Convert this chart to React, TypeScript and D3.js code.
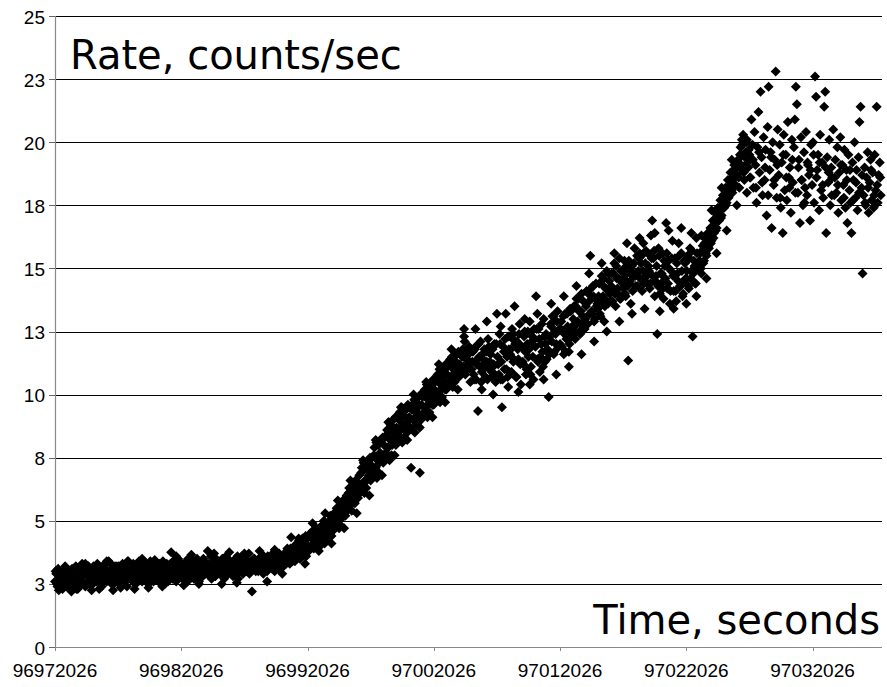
import React from 'react';
import * as d3 from 'd3';

const T0 = 96972026;
const X_MAX = 97037526;
const X_TICKS = [96972026, 96982026, 96992026, 97002026, 97012026, 97022026, 97032026];
const Y_TICKS = [0, 2.5, 5, 7.5, 10, 12.5, 15, 17.5, 20, 22.5, 25];
const Y_TITLE = 'Rate, counts/sec';
const X_TITLE = 'Time, seconds';

// [seconds since 96972026, rate]
const baseline: [number, number][] = [
[0,2.6],[100,2.9],[200,2.4],[300,3.0],[400,2.5],[500,2.8],[600,2.3],[700,3.0],[800,2.6],[900,2.4],
[1000,2.8],[1100,2.5],[1200,3.0],[1300,2.4],[1400,2.7],[1500,3.1],[1600,2.5],[1700,2.3],[1800,2.9],[1900,2.6],
[2000,3.0],[2100,2.5],[2200,2.8],[2300,3.2],[2400,2.4],[2500,2.9],[2600,2.6],[2700,3.1],[2800,2.5],[2900,2.8],
[3000,2.5],[3100,3.0],[3200,2.8],[3300,2.6],[3400,3.2],[3500,2.9],[3600,2.7],[3700,2.4],[3800,3.0],[3900,2.8],
[4000,3.1],[4100,2.6],[4200,2.9],[4300,2.7],[4400,3.3],[4500,2.5],[4600,2.8],[4700,3.0],[4800,2.7],[4900,3.2],
[5000,2.8],[5100,2.5],[5200,3.0],[5300,2.9],[5400,2.6],[5500,3.2],[5600,2.8],[5700,2.4],[5800,3.1],[5900,2.9],
[6000,2.7],[6100,3.0],[6200,3.3],[6300,2.8],[6400,2.5],[6500,2.9],[6600,3.1],[6700,2.7],[6800,3.0],[6900,2.6],
[7000,2.9],[7100,3.2],[7200,2.7],[7300,3.0],[7400,2.5],[7500,2.8],[7600,3.3],[7700,2.9],[7800,2.6],[7900,3.1],
[8000,2.8],[8100,3.0],[8200,2.6],[8300,3.2],[8400,2.9],[8500,2.7],[8600,3.1],[8700,2.5],[8800,3.0],[8900,2.8],
[9000,3.2],[9100,2.9],[9200,3.75],[9300,2.7],[9400,3.0],[9500,3.3],[9600,2.6],[9700,2.9],[9800,3.1],[9900,2.8],
[10000,3.0],[10100,2.7],[10200,3.2],[10300,2.9],[10400,3.4],[10500,2.6],[10600,3.0],[10700,2.8],[10800,3.3],[10900,2.9],
[11000,2.7],[11100,3.1],[11200,2.9],[11300,3.3],[11400,2.6],[11500,3.0],[11600,3.2],[11700,2.8],[11800,3.4],[11900,2.9],
[12000,3.1],[12100,3.8],[12200,2.9],[12300,3.2],[12400,2.7],[12500,3.0],[12600,3.4],[12700,2.8],[12800,3.1],[12900,3.3],
[13000,2.9],[13100,3.2],[13200,3.0],[13300,3.5],[13400,2.7],[13500,3.1],[13600,3.3],[13700,2.9],[13800,3.0],[13900,3.4],
[14000,3.2],[14100,2.8],[14200,3.1],[14300,3.5],[14400,3.0],[14500,2.7],[14600,3.3],[14700,3.1],[14800,3.6],[14900,2.9],
[15000,3.1],[15100,3.4],[15200,3.0],[15300,3.2],[15400,2.9],[15500,3.3],[15600,2.2],[15700,3.1],[15800,3.5],[15900,3.0],
[16000,3.3],[16100,3.0],[16200,3.4],[16300,3.1],[16400,3.6],[16500,2.9],[16600,3.2],[16700,3.4],[16800,3.0],[16900,3.3],
[17000,3.2],[17100,3.5],[17200,3.1],[17300,3.4],[17400,3.0],[17500,3.6],[17600,3.3],[17700,3.1],[17800,3.5],[17900,3.2],
[18000,3.4],[18100,3.2],[18200,3.6],[18300,3.3],[18400,3.5],[18500,3.7],[18600,3.3],[18700,4.35],[18800,3.4],[18900,3.8],
];

const baselineB: [number, number][] = [
[50,3.0],[150,2.5],[250,3.1],[350,2.7],[450,2.4],[550,2.9],[650,2.8],[750,2.5],[850,3.1],[950,2.7],
[1050,2.4],[1150,3.0],[1250,2.7],[1350,3.1],[1450,2.5],[1550,2.8],[1650,3.2],[1750,2.6],[1850,2.4],[1950,2.9],
[2050,2.8],[2150,3.3],[2250,2.5],[2350,2.9],[2450,3.1],[2550,2.6],[2650,3.2],[2750,2.8],[2850,3.0],[2950,2.5],
[3050,3.2],[3150,2.7],[3250,3.0],[3350,3.3],[3450,2.6],[3550,2.8],[3650,3.1],[3750,2.9],[3850,2.6],[3950,3.3],
[4050,2.7],[4150,3.0],[4250,3.4],[4350,2.6],[4450,2.9],[4550,3.1],[4650,2.5],[4750,3.2],[4850,2.9],[4950,2.7],
[5050,3.2],[5150,2.9],[5250,2.7],[5350,3.3],[5450,3.0],[5550,2.6],[5650,3.1],[5750,3.4],[5850,2.8],[5950,3.0],
[6050,3.1],[6150,2.6],[6250,2.9],[6350,3.2],[6450,3.0],[6550,2.7],[6650,3.4],[6750,2.9],[6850,2.7],[6950,3.2],
[7050,2.7],[7150,3.0],[7250,3.3],[7350,2.6],[7450,3.1],[7550,3.4],[7650,2.8],[7750,3.1],[7850,3.0],[7950,2.7],
[8050,3.2],[8150,2.7],[8250,3.3],[8350,2.9],[8450,3.1],[8550,3.4],[8650,2.8],[8750,3.0],[8850,3.3],[8950,2.6],
[9050,2.9],[9150,3.3],[9250,3.0],[9350,3.4],[9450,2.8],[9550,3.1],[9650,2.9],[9750,3.5],[9850,2.8],[9950,3.2],
[10050,3.3],[10150,2.9],[10250,3.1],[10350,2.7],[10450,3.2],[10550,3.5],[10650,2.9],[10750,3.1],[10850,3.0],[10950,3.4],
[11050,3.2],[11150,2.8],[11250,3.5],[11350,3.0],[11450,3.3],[11550,2.9],[11650,3.1],[11750,3.5],[11850,3.0],[11950,3.2],
[12050,2.9],[12150,3.3],[12250,3.0],[12350,3.6],[12450,3.1],[12550,2.8],[12650,3.2],[12750,3.5],[12850,2.9],[12950,3.1],
[13050,3.3],[13150,2.9],[13250,3.5],[13350,3.1],[13450,3.2],[13550,3.6],[13650,3.0],[13750,3.4],[13850,3.2],[13950,2.9],
[14050,3.0],[14150,3.4],[14250,3.2],[14350,2.9],[14450,3.6],[14550,3.3],[14650,3.0],[14750,3.5],[14850,3.2],[14950,3.4],
[15050,3.5],[15150,3.1],[15250,3.3],[15350,3.7],[15450,3.0],[15550,3.4],[15650,3.2],[15750,3.5],[15850,3.1],[15950,3.4],
[16050,3.1],[16150,3.5],[16250,3.2],[16350,3.3],[16450,3.0],[16550,3.6],[16650,3.4],[16750,3.1],[16850,3.6],[16950,3.2],
[17050,3.5],[17150,3.2],[17250,3.7],[17350,3.3],[17450,3.5],[17550,3.1],[17650,3.4],[17750,3.7],[17850,3.3],[17950,3.6],
[18050,3.6],[18150,3.3],[18250,3.5],[18350,3.8],[18450,3.4],[18550,3.6],[18650,3.9],[18750,3.5],[18850,3.7],[18950,4.0],
];

const baselineC: [number, number][] = [
[300,2.25],[800,3.2],[1300,2.2],[1800,2.3],[2400,3.3],[2900,2.25],[3500,2.3],[4100,3.4],[4600,2.25],[5200,2.35],
[5800,3.4],[6300,2.3],[6900,3.5],[7400,2.35],[7900,3.45],[8500,2.4],[9600,3.6],[10200,2.45],[10800,3.65],[11400,2.5],
[12600,3.7],[13200,2.5],[13800,3.75],[14400,2.55],[15000,3.7],[16200,3.8],[16800,2.6],[17400,3.85],[18000,2.9],[18400,3.9],
];

const rise: [number, number][] = [
[19000,3.4],[19100,4.0],[19200,3.6],[19300,4.2],[19400,3.5],[19500,3.9],[19600,4.3],[19700,3.7],[19800,4.1],[19900,3.6],
[20000,4.3],[20100,3.8],[20200,4.5],[20300,4.0],[20400,4.6],[20500,3.9],[20600,4.4],[20700,4.7],[20800,4.1],[20900,4.5],
[21000,4.0],[21100,4.8],[21200,4.3],[21300,5.0],[21400,4.5],[21500,4.2],[21600,4.9],[21700,4.6],[21800,5.2],[21900,4.4],
[22000,4.6],[22100,5.3],[22200,4.8],[22300,5.5],[22400,5.0],[22500,4.7],[22600,5.6],[22700,5.1],[22800,5.8],[22900,5.2],
[23000,5.2],[23100,6.0],[23200,5.5],[23300,6.3],[23400,5.7],[23500,5.4],[23600,6.4],[23700,5.9],[23800,6.6],[23900,6.0],
[24000,5.9],[24100,6.8],[24200,6.2],[24300,7.1],[24400,6.4],[24500,6.1],[24600,7.2],[24700,6.6],[24800,7.4],[24900,6.7],
[25000,6.6],[25100,7.5],[25200,6.9],[25300,7.9],[25400,7.1],[25500,6.7],[25600,8.0],[25700,7.3],[25800,8.2],[25900,7.4],
[26000,7.3],[26100,8.3],[26200,7.7],[26300,8.6],[26400,7.9],[26500,7.4],[26600,8.8],[26700,8.0],[26800,9.0],[26900,8.1],
[27000,8.0],[27100,9.1],[27200,8.4],[27300,9.3],[27400,8.6],[27500,8.1],[27600,9.2],[27700,8.7],[27800,9.4],[27900,8.5],
[28000,8.6],[28100,9.5],[28200,7.1],[28300,9.6],[28400,9.0],[28500,8.5],[28600,9.7],[28700,9.2],[28800,9.9],[28900,6.9],
[29000,9.0],[29100,9.9],[29200,9.3],[29300,10.2],[29400,9.5],[29500,9.1],[29600,10.3],[29700,9.7],[29800,10.4],[29900,9.6],
[30000,9.6],[30100,10.5],[30200,9.9],[30300,10.8],[30400,10.1],[30500,9.7],[30600,10.9],[30700,10.3],[30800,11.0],[30900,10.2],
[31000,10.2],[31100,11.1],[31200,10.5],[31300,11.4],[31400,10.7],[31500,10.3],[31600,11.5],[31700,10.9],[31800,11.6],[31900,10.8],
[32000,10.7],[32100,11.6],[32200,11.0],[32300,11.8],[32400,12.3],[32500,10.8],[32600,11.7],[32700,11.2],[32800,11.9],[32900,11.0],
];

const riseB: [number, number][] = [
[19050,3.8],[19150,3.5],[19250,4.1],[19350,3.7],[19450,3.9],[19550,3.6],[19650,4.0],[19750,3.8],[19850,4.4],[19950,3.9],
[20050,4.0],[20150,4.4],[20250,3.9],[20350,4.3],[20450,4.1],[20550,4.6],[20650,4.2],[20750,4.0],[20850,4.5],[20950,4.3],
[21050,4.6],[21150,4.3],[21250,4.7],[21350,4.1],[21450,4.9],[21550,4.5],[21650,4.4],[21750,5.0],[21850,4.6],[21950,4.8],
[22050,5.0],[22150,4.7],[22250,5.2],[22350,4.9],[22450,5.4],[22550,5.1],[22650,4.8],[22750,5.5],[22850,5.3],[22950,5.6],
[23050,5.8],[23150,5.4],[23250,6.1],[23350,5.6],[23450,6.2],[23550,5.9],[23650,6.5],[23750,5.7],[23850,6.3],[23950,6.1],
[24050,6.5],[24150,6.1],[24250,6.9],[24350,6.4],[24450,7.3],[24550,6.6],[24650,6.3],[24750,7.0],[24850,6.8],[24950,7.5],
[25050,7.2],[25150,6.8],[25250,7.6],[25350,7.1],[25450,8.1],[25550,7.4],[25650,6.9],[25750,7.7],[25850,7.5],[25950,8.3],
[26050,8.0],[26150,7.5],[26250,8.4],[26350,7.9],[26450,8.9],[26550,8.2],[26650,7.6],[26750,8.5],[26850,8.3],[26950,9.1],
[27050,8.7],[27150,8.2],[27250,9.0],[27350,8.6],[27450,9.5],[27550,8.8],[27650,8.3],[27750,9.1],[27850,8.9],[27950,9.6],
[28050,9.1],[28150,8.7],[28250,9.4],[28350,9.0],[28450,9.8],[28550,9.3],[28650,8.8],[28750,9.5],[28850,9.2],[28950,10.0],
[29050,9.6],[29150,9.2],[29250,10.0],[29350,9.5],[29450,10.4],[29550,9.8],[29650,9.3],[29750,10.1],[29850,9.9],[29950,10.6],
[30050,10.2],[30150,9.8],[30250,10.6],[30350,10.1],[30450,11.0],[30550,10.4],[30650,9.9],[30750,10.7],[30850,10.5],[30950,11.2],
[31050,10.8],[31150,10.4],[31250,11.2],[31350,10.7],[31450,11.5],[31550,11.0],[31650,10.5],[31750,11.3],[31850,11.1],[31950,11.7],
[32050,11.2],[32150,10.9],[32250,11.5],[32350,11.1],[32450,12.1],[32550,11.4],[32650,11.0],[32750,11.6],[32850,11.3],[32950,11.8],
];

const riseC: [number, number][] = [
[19300,4.3],[19800,3.3],[20400,4.9],[20900,3.8],[21400,5.3],[21900,4.1],[22400,5.8],[22900,4.7],[23400,6.6],[23900,5.3],
[24400,7.4],[24900,6.0],[25400,8.2],[25900,6.8],[26400,8.9],[26900,7.6],[27400,9.5],[27900,8.2],[28400,10.0],[28900,8.7],
[29400,10.5],[29900,9.1],[30400,11.2],[30900,9.7],[31400,11.8],[31900,10.2],[32400,12.6],[32900,10.5],
];

const plateau: [number, number][] = [
[33000,11.0],[33100,11.7],[33200,10.6],[33300,11.9],[33400,11.2],[33500,9.35],[33600,11.5],[33700,12.1],[33800,10.9],[33900,11.4],
[34000,11.8],[34100,10.7],[34200,11.3],[34300,12.2],[34400,11.0],[34500,11.6],[34600,10.9],[34700,11.1],[34800,12.0],[34900,10.5],
[35000,13.2],[35100,11.2],[35200,12.4],[35300,10.6],[35400,9.5],[35500,11.9],[35600,11.0],[35700,13.2],[35800,11.5],[35900,12.3],
[36000,10.9],[36100,11.8],[36200,12.6],[36300,11.3],[36400,13.5],[36500,10.7],[36600,12.1],[36700,11.4],[36800,12.8],[36900,10.4],
[37000,11.9],[37100,11.2],[37200,12.5],[37300,10.8],[37400,12.0],[37500,11.5],[37600,12.9],[37700,11.1],[37800,12.3],[37900,10.6],
[38000,12.2],[38100,13.9],[38200,11.4],[38300,12.6],[38400,10.9],[38500,12.0],[38600,11.7],[38700,13.0],[38800,11.3],[38900,12.4],
[39000,11.8],[39100,9.9],[39200,12.3],[39300,12.7],[39400,13.1],[39500,11.6],[39600,12.5],[39700,12.0],[39800,13.3],[39900,11.9],
[40000,12.0],[40100,12.9],[40200,12.5],[40300,11.6],[40400,13.2],[40500,12.2],[40600,12.7],[40700,11.7],[40800,13.4],[40900,12.3],
[41000,12.6],[41100,13.5],[41200,12.2],[41300,13.8],[41400,12.9],[41500,13.3],[41600,12.4],[41700,14.0],[41800,13.1],[41900,12.7],
[42000,13.0],[42100,14.1],[42200,12.8],[42300,13.7],[42400,15.5],[42500,13.3],[42600,14.3],[42700,12.9],[42800,13.8],[42900,13.5],
[43000,13.4],[43100,14.4],[43200,13.1],[43300,14.7],[43400,13.9],[43500,12.9],[43600,14.2],[43700,14.9],[43800,13.6],[43900,14.5],
[44000,13.7],[44100,14.8],[44200,14.1],[44300,15.2],[44400,13.5],[44500,14.6],[44600,14.0],[44700,15.4],[44800,13.8],[44900,14.9],
[45000,14.2],[45100,15.3],[45200,13.9],[45300,14.8],[45400,11.35],[45500,14.4],[45600,13.6],[45700,15.1],[45800,14.7],[45900,15.8],
[46000,14.3],[46100,15.5],[46200,14.9],[46300,15.6],[46400,15.2],[46500,14.1],[46600,16.0],[46700,14.6],[46800,15.7],[46900,14.4],
[47000,15.1],[47100,14.2],[47200,16.3],[47300,16.9],[47400,15.4],[47500,13.9],[47600,14.7],[47700,12.4],[47800,15.8],[47900,14.0],
[48000,14.4],[48100,15.6],[48200,13.8],[48300,15.1],[48400,16.8],[48500,14.2],[48600,15.3],[48700,13.6],[48800,14.9],[48900,16.1],
[49000,14.1],[49100,15.4],[49200,13.7],[49300,14.8],[49400,16.0],[49500,14.3],[49600,15.6],[49700,13.9],[49800,14.5],[49900,15.2],
[50000,14.6],[50100,15.5],[50200,14.2],[50300,15.8],[50400,14.9],[50500,12.3],[50600,15.3],[50700,14.4],[50800,16.2],[50900,15.0],
];

const plateauB: [number, number][] = [
[33050,11.3],[33150,10.8],[33250,11.8],[33350,10.6],[33450,11.4],[33550,12.0],[33650,11.1],[33750,10.5],[33850,11.6],[33950,11.2],
[34050,11.1],[34150,11.7],[34250,10.6],[34350,11.9],[34450,11.3],[34550,10.7],[34650,11.8],[34750,11.2],[34850,10.8],[34950,12.0],
[35050,11.5],[35150,10.8],[35250,12.0],[35350,11.3],[35450,10.6],[35550,11.7],[35650,12.2],[35750,11.0],[35850,10.7],[35950,11.8],
[36050,11.6],[36150,10.9],[36250,12.2],[36350,11.4],[36450,12.0],[36550,10.7],[36650,11.8],[36750,12.4],[36850,11.2],[36950,11.9],
[37050,11.3],[37150,12.3],[37250,11.7],[37350,11.0],[37450,12.5],[37550,11.8],[37650,10.8],[37750,12.1],[37850,11.5],[37950,12.6],
[38050,11.9],[38150,12.6],[38250,11.3],[38350,12.2],[38450,11.5],[38550,12.8],[38650,11.1],[38750,12.3],[38850,12.0],[38950,11.4],
[39050,12.3],[39150,11.6],[39250,12.8],[39350,12.1],[39450,13.1],[39550,11.7],[39650,12.4],[39750,12.9],[39850,11.9],[39950,12.6],
[40050,12.6],[40150,11.9],[40250,13.1],[40350,12.4],[40450,11.7],[40550,13.2],[40650,12.5],[40750,12.0],[40850,13.3],[40950,12.7],
[41050,13.0],[41150,12.4],[41250,13.5],[41350,12.8],[41450,13.8],[41550,12.5],[41650,13.3],[41750,12.8],[41850,13.7],[41950,12.6],
[42050,13.5],[42150,12.8],[42250,14.0],[42350,13.2],[42450,14.2],[42550,13.2],[42650,13.9],[42750,13.0],[42850,14.4],[42950,13.6],
[43050,13.9],[43150,13.2],[43250,14.4],[43350,13.7],[43450,14.6],[43550,13.5],[43650,14.2],[43750,13.7],[43850,14.8],[43950,14.0],
[44050,14.3],[44150,13.7],[44250,14.8],[44350,14.0],[44450,15.1],[44550,14.2],[44650,14.6],[44750,13.8],[44850,14.9],[44950,14.4],
[45050,14.6],[45150,14.0],[45250,15.1],[45350,14.3],[45450,15.3],[45550,14.5],[45650,14.9],[45750,14.1],[45850,15.2],[45950,14.7],
[46050,14.8],[46150,14.3],[46250,15.4],[46350,14.6],[46450,15.5],[46550,14.9],[46650,14.4],[46750,15.2],[46850,14.7],[46950,15.6],
[47050,14.9],[47150,14.4],[47250,15.4],[47350,14.7],[47450,15.7],[47550,14.5],[47650,15.1],[47750,14.3],[47850,15.5],[47950,14.8],
[48050,14.8],[48150,14.2],[48250,15.3],[48350,14.6],[48450,15.6],[48550,14.4],[48650,15.0],[48750,14.1],[48850,15.4],[48950,14.7],
[49050,14.7],[49150,14.1],[49250,15.2],[49350,14.5],[49450,15.5],[49550,14.3],[49650,14.9],[49750,14.0],[49850,15.3],[49950,14.6],
[50050,14.9],[50150,14.3],[50250,15.4],[50350,14.6],[50450,15.7],[50550,14.8],[50650,15.1],[50750,14.4],[50850,15.6],[50950,15.1],
];

const plateauC: [number, number][] = [
[33300,12.6],[33800,10.2],[34200,12.9],[34700,10.0],[35300,12.7],[35900,10.3],[36300,12.4],[36700,10.1],[37200,13.0],[37600,10.4],
[38200,13.2],[38700,10.6],[39300,13.6],[39700,10.8],[40300,13.9],[40700,11.1],[41300,14.3],[41700,11.6],[42300,14.8],[42700,12.1],
[43300,15.2],[43700,12.5],[44300,15.6],[44700,12.9],[45300,16.0],[45700,13.2],[46300,16.2],[46700,13.4],[47500,16.4],[47900,13.3],
[48600,16.5],[49000,13.4],[49600,16.6],[50000,13.6],[50400,16.4],[50800,13.9],
];

const climb: [number, number][] = [
[51000,15.0],[51100,15.6],[51200,14.8],[51300,15.9],[51400,15.3],[51500,16.2],[51600,15.5],[51700,16.4],[51800,15.8],[51900,16.6],
[52000,16.1],[52100,16.9],[52200,16.4],[52300,17.2],[52400,16.6],[52500,17.4],[52600,16.9],[52700,17.7],[52800,17.1],[52900,17.9],
[53000,17.4],[53100,18.2],[53200,17.6],[53300,18.5],[53400,17.9],[53500,18.8],[53600,18.1],[53700,18.6],[53800,19.1],[53900,18.3],
[54000,18.7],[54100,19.3],[54200,18.2],[54300,19.8],[54400,18.9],[54500,20.3],[54600,18.5],[54700,19.6],[54800,20.1],[54900,19.0],
];

const climbB: [number, number][] = [
[51050,15.3],[51150,15.0],[51250,15.7],[51350,15.2],[51450,16.0],[51550,15.6],[51650,16.1],[51750,15.9],[51850,16.3],[51950,16.0],
[52050,16.5],[52150,16.2],[52250,16.8],[52350,16.5],[52450,17.1],[52550,16.9],[52650,17.3],[52750,17.0],[52850,17.5],[52950,17.4],
[53050,17.8],[53150,17.5],[53250,18.0],[53350,17.8],[53450,18.3],[53550,18.4],[53650,18.0],[53750,18.9],[53850,18.6],[53950,19.2],
[54050,19.0],[54150,18.6],[54250,19.5],[54350,19.1],[54450,19.9],[54550,18.8],[54650,19.4],[54750,20.0],[54850,19.2],[54950,19.7],
];

const climbC: [number, number][] = [
[51200,16.3],[51600,14.6],[52000,17.3],[52400,15.6],[52800,18.2],[53200,16.5],[53600,19.3],[54000,17.5],[54400,20.1],[54800,18.0],
];

const flare: [number, number][] = [
[55000,19.5],[55080,18.6],[55160,20.9],[55240,19.9],[55320,18.2],[55400,20.4],[55480,19.1],[55560,17.6],[55640,19.8],[55720,21.2],
[55800,18.8],[55880,22.0],[55960,19.4],[56040,17.9],[56120,20.2],[56200,18.5],[56280,19.7],[56360,17.1],[56440,20.6],[56520,22.2],
[56600,18.9],[56680,19.6],[56760,16.6],[56840,20.0],[56920,18.3],[57000,19.3],[57080,22.8],[57160,17.8],[57240,20.5],[57320,18.7],
[57400,19.9],[57480,17.4],[57560,19.2],[57640,16.4],[57720,20.3],[57800,18.1],[57880,19.5],[57960,17.7],[58040,20.8],[58120,18.6],
[58200,19.0],[58280,17.2],[58360,20.1],[58440,18.4],[58520,19.8],[58600,20.9],[58680,22.2],[58760,21.5],[58840,18.0],[58920,19.3],
[59000,16.8],[59080,20.2],[59160,18.5],[59240,17.5],[59320,19.6],[59400,18.2],[59480,20.4],[59560,17.9],[59640,19.1],[59720,18.7],
[59800,16.9],[59880,19.9],[59960,18.3],[60040,20.0],[60120,17.6],[60200,22.6],[60280,21.8],[60360,18.9],[60440,19.5],[60520,17.3],
[60600,20.3],[60680,18.1],[60760,19.2],[60840,17.8],[60920,21.4],[61000,22.0],[61080,16.4],[61160,19.4],[61240,18.4],[61320,20.1],
[61400,17.5],[61480,19.0],[61560,18.6],[61640,20.5],[61720,17.9],[61800,19.3],[61880,18.0],[61960,19.8],[62040,17.2],[62120,18.8],
[62200,20.2],[62280,17.7],[62360,19.1],[62440,18.3],[62520,19.7],[62600,17.4],[62680,18.9],[62760,16.8],[62840,19.5],[62920,18.1],
[63000,17.6],[63080,16.4],[63160,19.2],[63240,18.5],[63320,20.0],[63400,17.8],[63480,18.9],[63560,17.3],[63640,19.4],[63720,20.8],
[63800,21.4],[63880,18.2],[63960,14.8],[64040,17.9],[64120,19.0],[64200,17.5],[64280,18.6],[64360,19.6],[64440,17.2],[64520,18.4],
[64600,19.3],[64680,17.7],[64760,18.8],[64840,17.4],[64920,19.5],[65000,18.1],[65080,21.4],[65160,17.6],[65240,18.7],[65320,19.2],
[65400,17.9],
];

const flareB: [number, number][] = [
[55040,18.6],[55280,19.3],[55520,18.2],[55760,19.6],[56000,18.4],[56240,19.0],[56480,17.9],[56720,19.4],[56960,18.5],[57200,19.1],
[57440,17.8],[57680,19.5],[57920,18.6],[58160,18.2],[58400,19.3],[58640,18.0],[58880,19.0],[59120,18.5],[59360,17.6],[59600,19.2],
[59840,18.9],[60080,19.5],[60320,18.6],[60560,19.2],[60800,18.3],[61040,19.0],[61280,18.8],[61520,17.9],[61760,18.6],[62000,18.3],
[62240,19.1],[62480,17.8],[62720,18.5],[62960,18.9],[63200,17.7],[63440,18.4],[63680,18.0],[63920,18.7],[64160,17.6],[64400,18.2],
[64640,18.9],[64880,17.9],[65120,18.3],[65360,18.6],
];

const W = 887;
const H = 687;
const LEFT = 55;
const RIGHT = 882;
const TOP = 16;
const BOTTOM = 647;

export default function App() {
  const x = d3.scaleLinear().domain([T0, X_MAX]).range([LEFT, RIGHT]);
  const y = d3.scaleLinear().domain([0, 25]).range([BOTTOM, TOP]);
  const diamond = d3.symbol().type(d3.symbolSquare).size(50)() as string;
  const points = [
    ...baseline, ...baselineB, ...baselineC, ...rise, ...riseB, ...riseC,
    ...plateau, ...plateauB, ...plateauC, ...climb, ...climbB, ...climbC,
    ...flare, ...flareB,
  ];
  const crisp = (v: number) => Math.round(v) + 0.5;
  const tickFont = { fontFamily: "'Liberation Sans', Arial, sans-serif", fontSize: 19 };
  const titleFont = { fontFamily: "'DejaVu Sans', sans-serif", fontSize: 40 };

  return (
    <svg width={W} height={H} style={{ position: 'absolute', left: 0, top: 0, background: '#fff' }}>
      <rect width={W} height={H} fill="#fff" />
      {Y_TICKS.filter((v) => v > 0).map((v) => (
        <line key={'g' + v} x1={LEFT} x2={RIGHT} y1={crisp(y(v))} y2={crisp(y(v))} stroke="#000" strokeWidth={1} />
      ))}
      <line x1={crisp(LEFT)} x2={crisp(LEFT)} y1={TOP} y2={BOTTOM} stroke="#888" strokeWidth={1.2} />
      {Y_TICKS.map((v) => (
        <g key={'yt' + v}>
          <line x1={LEFT - 6} x2={LEFT} y1={crisp(y(v))} y2={crisp(y(v))} stroke="#666" strokeWidth={1} />
          <text x={45} y={y(v) + 7.5} textAnchor="end" fill="#000" style={tickFont}>
            {Math.round(v)}
          </text>
        </g>
      ))}
      <line x1={LEFT} x2={RIGHT} y1={crisp(BOTTOM)} y2={crisp(BOTTOM)} stroke="#888" strokeWidth={1.2} />
      {X_TICKS.map((v) => (
        <g key={'xt' + v}>
          <line x1={crisp(x(v))} x2={crisp(x(v))} y1={BOTTOM} y2={BOTTOM + 4} stroke="#888" strokeWidth={1} />
          <text x={x(v)} y={677} textAnchor="middle" fill="#000" style={tickFont}>
            {String(v)}
          </text>
        </g>
      ))}
      <text x={70} y={69} fill="#000" style={titleFont}>{Y_TITLE}</text>
      <text x={880} y={634} textAnchor="end" fill="#000" style={titleFont}>{X_TITLE}</text>
      <g fill="#000">
        {points.map(([t, r], i) => (
          <path key={i} d={diamond} transform={`translate(${x(T0 + t)},${y(r)}) rotate(45)`} />
        ))}
      </g>
    </svg>
  );
}
